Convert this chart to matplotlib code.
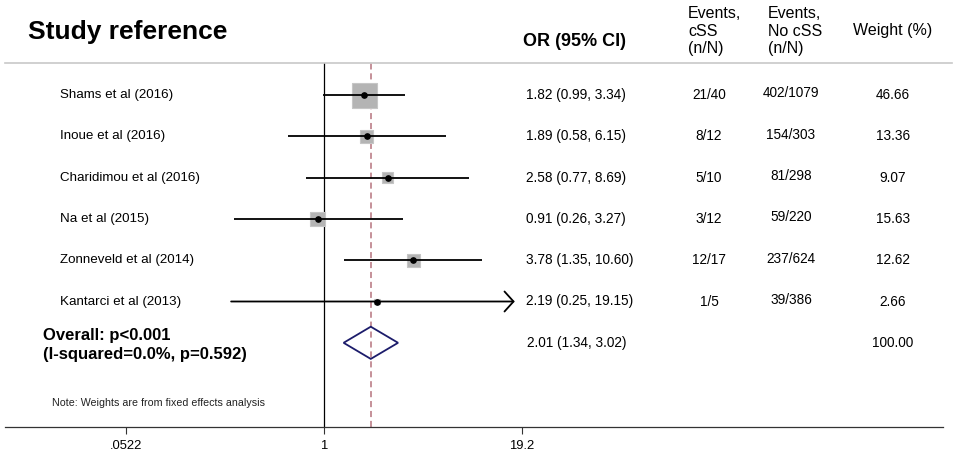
#!/usr/bin/env python3
"""
Forest plot: odds ratios of the individual studies, fixed-effects pooled estimate.
Saves out.png (957 x 455 px).
"""

import numpy as np
import matplotlib
matplotlib.use("Agg")
import matplotlib.pyplot as plt
from matplotlib.lines import Line2D
from matplotlib.patches import Polygon
from matplotlib.ticker import NullLocator
from matplotlib.transforms import blended_transform_factory

plt.rcParams["font.family"] = ["Liberation Sans", "DejaVu Sans"]

# ── Data ────────────────────────────────────────────────────────
STUDIES = ["Shams et al (2016)", "Inoue et al (2016)", "Charidimou et al (2016)",
           "Na et al (2015)", "Zonneveld et al (2014)", "Kantarci et al (2013)"]
OR_EST = [1.82, 1.89, 2.58, 0.91, 3.78, 2.19]
CI_LO = [0.99, 0.58, 0.77, 0.26, 1.35, 0.25]
CI_HI = [3.34, 6.15, 8.69, 3.27, 10.60, 19.15]
EVENTS_CSS = ["21/40", "8/12", "5/10", "3/12", "12/17", "1/5"]
EVENTS_NO_CSS = ["402/1079", "154/303", "81/298", "59/220", "237/624", "39/386"]
WEIGHTS = [46.66, 13.36, 9.07, 15.63, 12.62, 2.66]

OVERALL_EST, OVERALL_LO, OVERALL_HI = 2.01, 1.34, 3.02
OVERALL_WEIGHT = "100.00"
OVERALL_LABEL = "Overall: p<0.001\n(I-squared=0.0%, p=0.592)"
NOTE = "Note: Weights are from fixed effects analysis"

XTICKS = [0.0522, 1, 19.2]
XTICK_LABELS = [".0522", "1", "19.2"]

# ── Layout (pixels of a 957 x 455 canvas) ───────────────────────
W, H = 957, 455
PX_ONE, PX_PER_LN = 324, 67.0      # where OR=1 sits and px per ln unit
AX_LEFT, AX_RIGHT = 5, 943
AX_TOP, AX_BOTTOM = 63, 427
ROW0_PX, ROW_STEP = 95, 41.3

BOX_COLOR = "#b4b4b4"
BOX_EDGE = "#c6c6c6"
REF_COLOR = "#b5737d"
DIAMOND_COLOR = "#1c1c6b"
FS_LABEL = 9.6
FS_VALUE = 9.8
CI_LW = 1.3


def fx(px):
    return px / W


def fy(py):
    return 1 - py / H


def main():
    fig = plt.figure(figsize=(W / 100, H / 100), dpi=100)
    ax = fig.add_axes([fx(AX_LEFT), fy(AX_BOTTOM),
                       (AX_RIGHT - AX_LEFT) / W, (AX_BOTTOM - AX_TOP) / H])
    ax.set_xscale("log")
    ax.set_xlim(np.exp((AX_LEFT - PX_ONE) / PX_PER_LN),
                np.exp((AX_RIGHT - PX_ONE) / PX_PER_LN))
    ax.set_ylim((AX_BOTTOM - ROW0_PX) / ROW_STEP, (AX_TOP - ROW0_PX) / ROW_STEP)

    for side in ("top", "left", "right"):
        ax.spines[side].set_visible(False)
    ax.spines["bottom"].set_linewidth(0.9)
    ax.spines["bottom"].set_color("#333333")
    ax.set_yticks([])
    ax.set_xticks(XTICKS)
    ax.set_xticklabels(XTICK_LABELS)
    ax.xaxis.set_minor_locator(NullLocator())
    ax.tick_params(axis="x", direction="out", length=5, width=0.8,
                   color="#333333", labelsize=9.4, pad=4.5)

    rows = np.arange(len(STUDIES))
    overall_row = len(STUDIES)

    # reference lines
    ax.axvline(1, color="black", lw=0.9, zorder=1)
    ax.axvline(OVERALL_EST, color=REF_COLOR, lw=1.1, ls=(0, (4, 2.5)), zorder=1)

    # weight boxes (area proportional to weight)
    w = np.asarray(WEIGHTS)
    side_pt = 25 * 0.72 * np.sqrt(w / w.max())
    ax.scatter(OR_EST, rows, s=side_pt ** 2, marker="s", color=BOX_COLOR,
               edgecolors=BOX_EDGE, linewidths=0.8, zorder=2)

    # confidence intervals
    for r, lo, hi in zip(rows, CI_LO, CI_HI):
        if hi >= 0.99 * XTICKS[-1]:
            ax.annotate("", xy=(hi * 0.9, r), xytext=(lo, r),
                        arrowprops=dict(arrowstyle="->, head_length=0.65, head_width=0.72",
                                        mutation_scale=10, color="black", lw=CI_LW,
                                        shrinkA=0, shrinkB=0), zorder=3)
        else:
            ax.plot([lo, hi], [r, r], color="black", lw=CI_LW, zorder=3,
                    solid_capstyle="butt")
    ax.plot(OR_EST, rows, "o", color="black", ms=3.8, zorder=4)

    # pooled diamond
    half_h = 0.39
    diamond = Polygon([(OVERALL_LO, overall_row), (OVERALL_EST, overall_row - half_h),
                       (OVERALL_HI, overall_row), (OVERALL_EST, overall_row + half_h)],
                      closed=True, fill=False, edgecolor=DIAMOND_COLOR, lw=1.3, zorder=3)
    ax.add_patch(diamond)

    # text columns: x in figure fraction, y in rows
    trans = blended_transform_factory(fig.transFigure, ax.transData)
    for r in rows:
        ax.text(fx(60), r, STUDIES[r], transform=trans, ha="left", va="center",
                fontsize=FS_LABEL)
        ax.text(fx(526), r, f"{OR_EST[r]:.2f} ({CI_LO[r]:.2f}, {CI_HI[r]:.2f})",
                transform=trans, ha="left", va="center", fontsize=FS_VALUE)
        ax.text(fx(709), r, EVENTS_CSS[r], transform=trans, ha="center", va="center",
                fontsize=FS_VALUE)
        ax.text(fx(791), r - 0.04, EVENTS_NO_CSS[r], transform=trans, ha="center",
                va="center", fontsize=FS_VALUE)
        ax.text(fx(893), r, f"{WEIGHTS[r]:.2f}", transform=trans, ha="center",
                va="center", fontsize=FS_VALUE)

    ax.text(fx(527), overall_row,
            f"{OVERALL_EST:.2f} ({OVERALL_LO:.2f}, {OVERALL_HI:.2f})",
            transform=trans, ha="left", va="center", fontsize=FS_VALUE)
    ax.text(fx(893), overall_row, OVERALL_WEIGHT, transform=trans, ha="center",
            va="center", fontsize=FS_VALUE)
    ax.text(fx(43), overall_row + 0.06, OVERALL_LABEL, transform=trans, ha="left",
            va="center", fontsize=12, fontweight="bold", linespacing=1.3)
    ax.text(fx(52), (403 - ROW0_PX) / ROW_STEP, NOTE, transform=trans, ha="left",
            va="center", fontsize=7.7, color="#222222")

    # headers
    fig.text(fx(28), fy(32), "Study reference", ha="left", va="center",
             fontsize=19, fontweight="bold")
    fig.text(fx(523), fy(42), "OR (95% CI)", ha="left", va="center",
             fontsize=13, fontweight="bold")
    fig.text(fx(688), fy(31), "Events,\ncSS\n(n/N)", ha="left", va="center",
             fontsize=11.5, linespacing=1.25)
    fig.text(fx(768), fy(31), "Events,\nNo cSS\n(n/N)", ha="left", va="center",
             fontsize=11.5, linespacing=1.25)
    fig.text(fx(853), fy(30), "Weight (%)", ha="left", va="center", fontsize=11.5)

    fig.add_artist(Line2D([fx(5), fx(952)], [fy(AX_TOP), fy(AX_TOP)],
                          transform=fig.transFigure, color="#c8c8c8", lw=1.2))

    fig.savefig("out.png", dpi=100)
    plt.close(fig)


if __name__ == "__main__":
    main()
